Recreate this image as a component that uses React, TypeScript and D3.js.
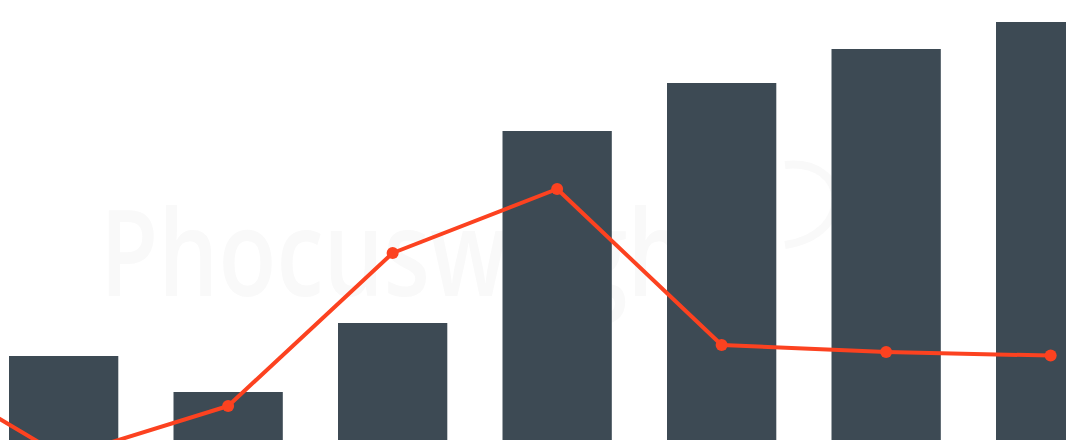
import React, { useEffect, useRef } from "react";
import * as d3 from "d3";

// first category sits left of the visible frame
const categories = ["2018", "2019", "2020", "2021", "2022", "2023", "2024", "2025"];
const barValues = [30, 26.4, 22.8, 29.7, 48.9, 53.7, 57.1, 59.8];
const growthValues = [15.25, -9.25, 3.5, 41.75, 57.75, 18.75, 17, 16.1];

const width = 1066;
const height = 440;

export default function App() {
  const ref = useRef<SVGSVGElement>(null);

  useEffect(() => {
    document.body.style.margin = "0";
    const svg = d3.select(ref.current);
    svg.selectAll("*").remove();

    var x = d3
      .scaleBand()
      .domain(categories)
      .range([-183.1, 1132.9])
      .paddingInner(0.3356)
      .paddingOuter(0.1678);

    var yBar = d3.scaleLinear().domain([0, 60]).range([620, 20]);
    var yLine = d3.scaleLinear().domain([-20, 60]).range([500, 180]);

    // faint watermark behind everything
    svg
      .append("text")
      .attr("x", 100)
      .attr("y", 296)
      .attr("textLength", 625)
      .attr("lengthAdjust", "spacingAndGlyphs")
      .style("font-family", "'Open Sans', sans-serif")
      .style("font-weight", 600)
      .style("font-size", "120px")
      .style("fill", "#f9f9f9")
      .text("Phocuswright");

    svg
      .append("path")
      .attr("d", "M785,245 C855,235 850,158 785,165")
      .style("fill", "none")
      .style("stroke", "#f9f9f9")
      .style("stroke-width", 8);

    svg
      .selectAll(".bar")
      .data(categories)
      .enter()
      .append("rect")
      .attr("class", "bar")
      .attr("x", (d: any) => x(d) as number)
      .attr("width", x.bandwidth())
      .attr("y", (d: any, i: number) => yBar(barValues[i]))
      .attr("height", (d: any, i: number) => yBar(0) - yBar(barValues[i]))
      .style("fill", "#3d4a54");

    var line = d3
      .line<number>()
      .x((d: any, i: number) => (x(categories[i]) as number) + x.bandwidth() / 2)
      .y((d: number) => yLine(d));

    svg
      .append("path")
      .datum(growthValues)
      .attr("d", line)
      .style("fill", "none")
      .style("stroke", "#fc4220")
      .style("stroke-width", 4)
      .style("stroke-linejoin", "round");

    svg
      .selectAll(".dot")
      .data(growthValues)
      .enter()
      .append("circle")
      .attr("class", "dot")
      .attr("cx", (d: number, i: number) => (x(categories[i]) as number) + x.bandwidth() / 2)
      .attr("cy", (d: number) => yLine(d))
      .attr("r", 6)
      .style("fill", "#fc4220");
  }, []);

  return <svg ref={ref} width={width} height={height} style={{ display: "block" }} />;
}
